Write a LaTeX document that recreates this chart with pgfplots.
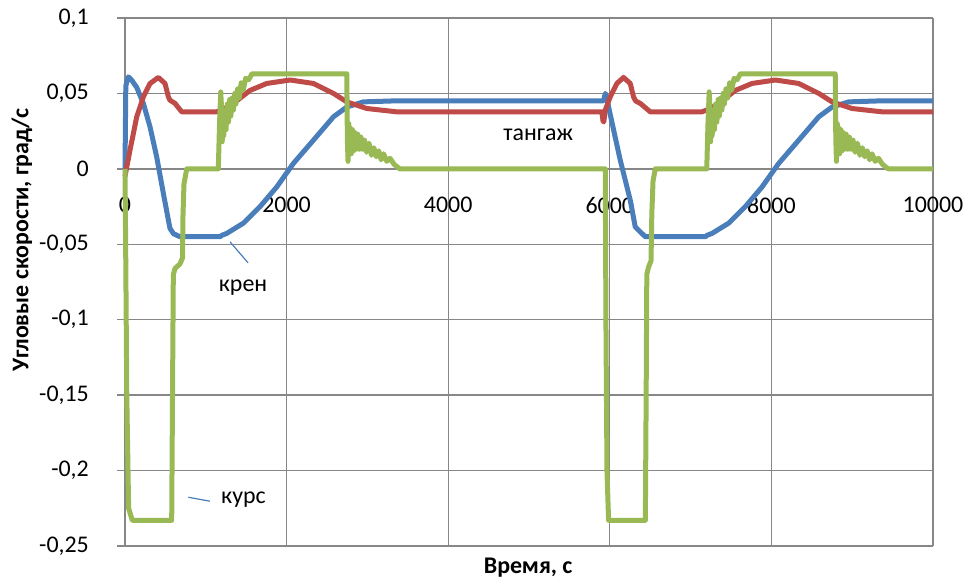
\documentclass[border=0pt]{standalone}
\usepackage{pgfplots}
\pgfplotsset{compat=1.18}
\usepackage{fontspec}
\setmainfont{Carlito}
\definecolor{sblue}{HTML}{4A7EBB}
\definecolor{sred}{HTML}{BE4B48}
\definecolor{sgreen}{HTML}{98B954}
\definecolor{gridgray}{HTML}{878787}
\begin{document}
\fontsize{24}{28}\selectfont
\begin{tikzpicture}
\useasboundingbox (0,0) rectangle (971bp,587bp);
\begin{axis}[
  at={(125bp,41bp)}, anchor=south west,
  width=808bp, height=528bp, scale only axis,
  xmin=0, xmax=10000, ymin=-0.25, ymax=0.1,
  axis x line=middle, axis y line=left,
  hide obscured x ticks=false,
  scaled x ticks=false,
  x axis line style={-, gridgray, line width=1.3bp},
  y axis line style={-, gridgray, line width=1.3bp},
  xtick={0,2000,4000,6000,8000,10000},
  xticklabels={0,2000,4000,6000,8000,10000},
  ytick={-0.25,-0.2,-0.15,-0.1,-0.05,0,0.05,0.1},
  yticklabels={{-0,25},{-0,2},{-0,15},{-0,1},{-0,05},{0},{0,05},{0,1}},
  grid=major,
  major grid style={gridgray, line width=1.3bp},
  tick align=outside,
  major tick length=8bp,
  xtick style={draw=none},
  ytick style={gridgray, line width=1.3bp},
  tick label style={font=\fontsize{24}{28}\selectfont, text=black},
  yticklabel style={xshift=-20bp},
  xticklabel style={yshift=-12bp},
  xlabel={\textbf{Время, с}},
  ylabel={\textbf{Угловые скорости, град/с}},
  label style={font=\fontsize{24}{28}\selectfont},
  xlabel style={at={(axis description cs:0.499,-0.0417)}, anchor=center},
  ylabel style={at={(axis description cs:-0.1275,0.58)}, anchor=center, rotate=0},
  clip=false,
  line join=round,
]
% крен
\addplot[sblue, line width=5bp] coordinates {
(0,0)(10,0.055)(41,0.061)(80,0.059)(145,0.054)(227,0.0434)(310,0.0278)(392,0.008)(475,-0.0163)(537,-0.034)(557,-0.0395)(600,-0.043)(681,-0.045)(1176,-0.045)(1200,-0.044)(1259,-0.0428)(1465,-0.036)(1672,-0.025)(1878,-0.012)(2084,0.0036)(2332,0.019)(2580,0.0345)(2745,0.041)(2951,0.0444)(3364,0.0451)(5923,0.0451)(5944,0.05)(5960,0.048)(5985,0.041)(6129,0.0058)(6253,-0.0207)(6315,-0.0385)(6377,-0.0418)(6440,-0.045)(6501,-0.045)(7182,-0.045)(7206,-0.044)(7265,-0.0428)(7471,-0.036)(7678,-0.025)(7884,-0.012)(8090,0.0036)(8338,0.019)(8586,0.0345)(8751,0.041)(8957,0.0444)(9370,0.0451)(10000,0.0451)
};
% тангаж
\addplot[sred, line width=5bp] coordinates {
(0,-0.005)(62,0.0124)(145,0.0345)(227,0.0477)(310,0.0566)(413,0.0606)(495,0.0566)(537,0.0477)(557,0.0455)(619,0.0434)(702,0.0378)(1135,0.0378)(1240,0.040)(1341,0.0434)(1548,0.052)(1754,0.0566)(2043,0.0589)(2332,0.0566)(2580,0.05)(2745,0.0444)(2992,0.040)(3364,0.0378)(5902,0.0378)(5915,0.032)(5925,0.031)(5944,0.039)(6005,0.0477)(6088,0.0566)(6170,0.0606)(6253,0.0566)(6294,0.0477)(6320,0.045)(6377,0.0434)(6501,0.0378)(7141,0.0378)(7246,0.040)(7347,0.0434)(7554,0.052)(7760,0.0566)(8049,0.0589)(8338,0.0566)(8586,0.05)(8751,0.0444)(8998,0.040)(9370,0.0378)(10000,0.0378)
};
% курс
\addplot[sgreen, line width=5bp] coordinates {
(0,0)(8,-0.05)(22,-0.15)(45,-0.225)(90,-0.233)(578,-0.233)(588,-0.15)(598,-0.07)(620,-0.066)(640,-0.065)(681,-0.063)(712,-0.059)(718,-0.03)(730,-0.01)(764,0)(1155,0)
(1170,0.03)(1185,0.051)(1195,0.04)(1203,0.018)(1213,0.036)(1222,0.022)(1236,0.039)(1250,0.026)(1266,0.043)(1280,0.031)(1296,0.046)(1310,0.035)(1327,0.047)(1342,0.039)(1358,0.05)(1373,0.043)(1393,0.053)(1413,0.047)(1438,0.057)(1463,0.052)(1493,0.06)(1530,0.059)(1570,0.063)(2745,0.063)
(2752,0.02)(2760,0.005)(2770,0.03)(2780,0.012)(2790,0.027)(2800,0.01)(2815,0.026)(2830,0.012)(2845,0.024)(2860,0.013)(2880,0.023)(2900,0.013)(2920,0.021)(2940,0.013)(2965,0.019)(2990,0.011)(3020,0.017)(3050,0.009)(3080,0.014)(3110,0.008)(3140,0.012)(3170,0.006)(3200,0.01)(3240,0.005)(3280,0.007)(3330,0.003)(3400,0)
(5944,0)(5952,-0.1)(5965,-0.2)(5985,-0.233)(6440,-0.233)(6450,-0.15)(6458,-0.07)(6480,-0.065)(6510,-0.061)(6520,-0.03)(6535,-0.008)(6563,0)(7200,0)
(7215,0.03)(7230,0.051)(7240,0.04)(7248,0.018)(7258,0.036)(7267,0.022)(7281,0.039)(7295,0.026)(7311,0.043)(7325,0.031)(7341,0.046)(7355,0.035)(7372,0.047)(7387,0.039)(7403,0.05)(7418,0.043)(7438,0.053)(7458,0.047)(7483,0.057)(7508,0.052)(7538,0.06)(7575,0.059)(7615,0.063)(8790,0.063)
(8797,0.02)(8805,0.005)(8815,0.03)(8825,0.012)(8835,0.027)(8845,0.01)(8860,0.026)(8875,0.012)(8890,0.024)(8905,0.013)(8925,0.023)(8945,0.013)(8965,0.021)(8985,0.013)(9010,0.019)(9035,0.011)(9065,0.017)(9095,0.009)(9125,0.014)(9155,0.008)(9185,0.012)(9215,0.006)(9245,0.01)(9285,0.005)(9325,0.007)(9375,0.003)(9445,0)(10000,0)
};
\draw[sblue, line width=1.2bp] (axis cs:1300,-0.0484) -- (axis cs:1523,-0.0623);
\draw[sblue, line width=1.2bp] (axis cs:784,-0.2177) -- (axis cs:1052,-0.2203);
\node[font=\fontsize{24}{28}\selectfont] at (axis cs:1461,-0.0784) {крен};
\node[font=\fontsize{24}{28}\selectfont] at (axis cs:1467,-0.219) {курс};
\node[font=\fontsize{24}{28}\selectfont] at (axis cs:5114,0.0223) {тангаж};
\end{axis}
\end{tikzpicture}
\end{document}
